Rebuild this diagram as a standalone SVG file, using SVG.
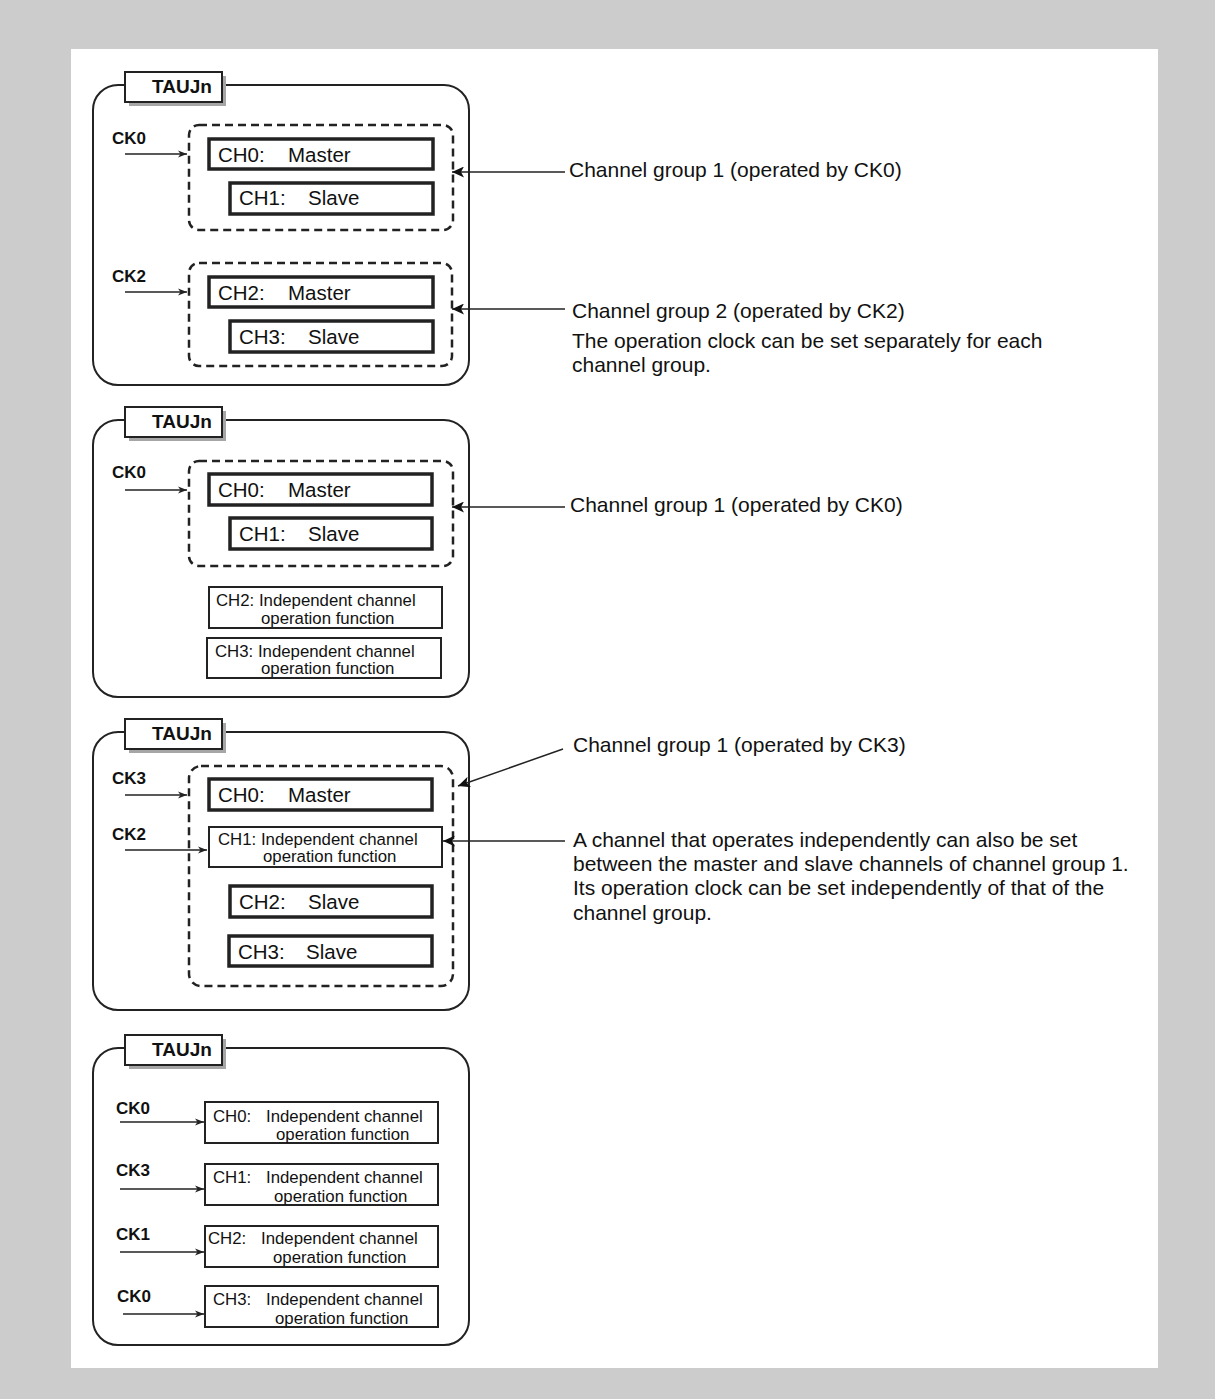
<svg xmlns="http://www.w3.org/2000/svg" width="1215" height="1399" viewBox="0 0 1215 1399">
<defs>
<marker id="ck" markerUnits="userSpaceOnUse" markerWidth="10" markerHeight="8" refX="9" refY="4" orient="auto">
<path d="M0,0.5 L9,4 L0,7.5 L2.5,4 Z" fill="#222"/>
</marker>
<marker id="tri" markerUnits="userSpaceOnUse" markerWidth="13" markerHeight="11" refX="12" refY="5.5" orient="auto">
<path d="M0,0 L12,5.5 L0,11 L3,5.5 Z" fill="#111"/>
</marker>
</defs>
<style>
.outer{fill:none;stroke:#222;stroke-width:2}
.dash{fill:none;stroke:#222;stroke-width:2.5;stroke-dasharray:8 5}
.thick{fill:#fff;stroke:#222;stroke-width:3.5}
.thin{fill:#fff;stroke:#222;stroke-width:2}
.tab{fill:#fff;stroke:#222;stroke-width:2}
.shadow{fill:#a6a6a6}
.tabt{font-family:"Liberation Sans",Arial,sans-serif;font-weight:bold;font-size:19px;fill:#111}
.ck{font-family:"Liberation Sans",Arial,sans-serif;font-weight:bold;font-size:17px;fill:#111}
.big{font-family:"Liberation Sans",Arial,sans-serif;font-size:20.5px;fill:#111}
.sm{font-family:"Liberation Sans",Arial,sans-serif;font-size:16.8px;fill:#111}
.ann{font-family:"Liberation Sans",Arial,sans-serif;font-size:21px;fill:#111}
.ckl{stroke:#222;stroke-width:1.5;fill:none;marker-end:url(#ck)}
.anl{stroke:#222;stroke-width:1.5;fill:none;marker-end:url(#tri)}
</style>
<rect x="0" y="0" width="1215" height="1399" fill="#cccccc"/>
<rect x="71" y="49" width="1087" height="1319" fill="#ffffff"/>

<!-- Panel 1 -->
<g id="panel1">
<rect class="outer" x="93" y="85" width="376" height="300" rx="25"/>
<rect class="shadow" x="129" y="76" width="97" height="30"/>
<rect class="tab" x="125" y="72" width="97" height="30"/>
<text class="tabt" x="152" y="93">TAUJn</text>
</g>
<g id="p1-group1"><rect class="dash" x="189" y="125" width="264" height="105" rx="10"/></g>
<g id="p1-ch0"><rect class="thick" x="209" y="139" width="224" height="30"/><text class="big" x="218" y="162">CH0:</text><text class="big" x="288" y="162">Master</text></g>
<g id="p1-ch1"><rect class="thick" x="230" y="183" width="203" height="31"/><text class="big" x="239" y="205">CH1:</text><text class="big" x="308" y="205">Slave</text></g>
<g id="p1-group2"><rect class="dash" x="189" y="263" width="263" height="103" rx="10"/></g>
<g id="p1-ch2"><rect class="thick" x="209" y="277" width="224" height="30"/><text class="big" x="218" y="300">CH2:</text><text class="big" x="288" y="300">Master</text></g>
<g id="p1-ch3"><rect class="thick" x="230" y="321" width="203" height="31"/><text class="big" x="239" y="344">CH3:</text><text class="big" x="308" y="344">Slave</text></g>
<g id="p1-labels">
<text class="ck" x="112" y="144">CK0</text>
<text class="ck" x="112" y="282">CK2</text>
<text class="ann" x="569" y="177">Channel group 1 (operated by CK0)</text>
<text class="ann" x="572" y="318">Channel group 2 (operated by CK2)</text>
<text class="ann" x="572" y="348">The operation clock can be set separately for each</text>
<text class="ann" x="572" y="372">channel group.</text>
</g>

<!-- Panel 2 -->
<g id="panel2">
<rect class="outer" x="93" y="420" width="376" height="277" rx="25"/>
<rect class="shadow" x="129" y="411" width="97" height="30"/>
<rect class="tab" x="125" y="407" width="97" height="30"/>
<text class="tabt" x="152" y="428">TAUJn</text>
</g>
<g id="p2-group1"><rect class="dash" x="189" y="461" width="264" height="105" rx="10"/></g>
<g id="p2-ch0"><rect class="thick" x="209" y="474" width="223" height="31"/><text class="big" x="218" y="497">CH0:</text><text class="big" x="288" y="497">Master</text></g>
<g id="p2-ch1"><rect class="thick" x="230" y="518" width="202" height="31"/><text class="big" x="239" y="541">CH1:</text><text class="big" x="308" y="541">Slave</text></g>
<g id="p2-ch2"><rect class="thin" x="209" y="587" width="233" height="41"/><text class="sm" x="216" y="606">CH2: Independent channel</text><text class="sm" x="261" y="624">operation function</text></g>
<g id="p2-ch3"><rect class="thin" x="207" y="638" width="234" height="40"/><text class="sm" x="215" y="657">CH3: Independent channel</text><text class="sm" x="261" y="674">operation function</text></g>
<g id="p2-labels">
<text class="ck" x="112" y="478">CK0</text>
<text class="ann" x="570" y="512">Channel group 1 (operated by CK0)</text>
</g>

<!-- Panel 3 -->
<g id="panel3">
<rect class="outer" x="93" y="732" width="376" height="278" rx="25"/>
<rect class="shadow" x="129" y="723" width="97" height="30"/>
<rect class="tab" x="125" y="719" width="97" height="30"/>
<text class="tabt" x="152" y="740">TAUJn</text>
</g>
<g id="p3-group1"><rect class="dash" x="189" y="766" width="264" height="220" rx="12"/></g>
<g id="p3-ch0"><rect class="thick" x="209" y="779" width="223" height="31"/><text class="big" x="218" y="802">CH0:</text><text class="big" x="288" y="802">Master</text></g>
<g id="p3-ch1"><rect class="thin" x="209" y="827" width="233" height="40"/><text class="sm" x="218" y="845">CH1: Independent channel</text><text class="sm" x="263" y="862">operation function</text></g>
<g id="p3-ch2"><rect class="thick" x="230" y="886" width="202" height="31"/><text class="big" x="239" y="909">CH2:</text><text class="big" x="308" y="909">Slave</text></g>
<g id="p3-ch3"><rect class="thick" x="229" y="936" width="203" height="30"/><text class="big" x="238" y="959">CH3:</text><text class="big" x="306" y="959">Slave</text></g>
<g id="p3-labels">
<text class="ck" x="112" y="784">CK3</text>
<text class="ck" x="112" y="840">CK2</text>
<text class="ann" x="573" y="752">Channel group 1 (operated by CK3)</text>
<text class="ann" x="573" y="847">A channel that operates independently can also be set</text>
<text class="ann" x="573" y="871">between the master and slave channels of channel group 1.</text>
<text class="ann" x="573" y="895">Its operation clock can be set independently of that of the</text>
<text class="ann" x="573" y="920">channel group.</text>
</g>

<!-- Panel 4 -->
<g id="panel4">
<rect class="outer" x="93" y="1048" width="376" height="297" rx="25"/>
<rect class="shadow" x="129" y="1039" width="97" height="30"/>
<rect class="tab" x="125" y="1035" width="97" height="30"/>
<text class="tabt" x="152" y="1056">TAUJn</text>
</g>
<g id="p4-ch0"><rect class="thin" x="205" y="1102" width="233" height="41"/><text class="sm" x="213" y="1122">CH0:</text><text class="sm" x="266" y="1122">Independent channel</text><text class="sm" x="276" y="1140">operation function</text></g>
<g id="p4-ch1"><rect class="thin" x="205" y="1164" width="233" height="41"/><text class="sm" x="213" y="1183">CH1:</text><text class="sm" x="266" y="1183">Independent channel</text><text class="sm" x="274" y="1202">operation function</text></g>
<g id="p4-ch2"><rect class="thin" x="205" y="1226" width="233" height="41"/><text class="sm" x="208" y="1244">CH2:</text><text class="sm" x="261" y="1244">Independent channel</text><text class="sm" x="273" y="1263">operation function</text></g>
<g id="p4-ch3"><rect class="thin" x="205" y="1286" width="233" height="41"/><text class="sm" x="213" y="1305">CH3:</text><text class="sm" x="266" y="1305">Independent channel</text><text class="sm" x="275" y="1324">operation function</text></g>
<g id="p4-labels">
<text class="ck" x="116" y="1114">CK0</text>
<text class="ck" x="116" y="1176">CK3</text>
<text class="ck" x="116" y="1240">CK1</text>
<text class="ck" x="117" y="1302">CK0</text>
</g>

<g id="connectors">
<line class="ckl" x1="125" y1="154" x2="187" y2="154"/>
<line class="ckl" x1="125" y1="292" x2="187" y2="292"/>
<line class="anl" x1="565" y1="172" x2="452" y2="172"/>
<line class="anl" x1="565" y1="309" x2="452" y2="309"/>
<line class="ckl" x1="125" y1="490" x2="187" y2="490"/>
<line class="anl" x1="565" y1="507" x2="452" y2="507"/>
<line class="ckl" x1="125" y1="795" x2="187" y2="795"/>
<line class="ckl" x1="125" y1="850" x2="207" y2="850"/>
<line class="anl" x1="563" y1="749" x2="458" y2="786"/>
<line class="anl" x1="565" y1="841" x2="443" y2="841"/>
<line class="ckl" x1="120" y1="1122" x2="204" y2="1122"/>
<line class="ckl" x1="120" y1="1189" x2="204" y2="1189"/>
<line class="ckl" x1="120" y1="1252" x2="204" y2="1252"/>
<line class="ckl" x1="123" y1="1314" x2="204" y2="1314"/>
</g>
</svg>
